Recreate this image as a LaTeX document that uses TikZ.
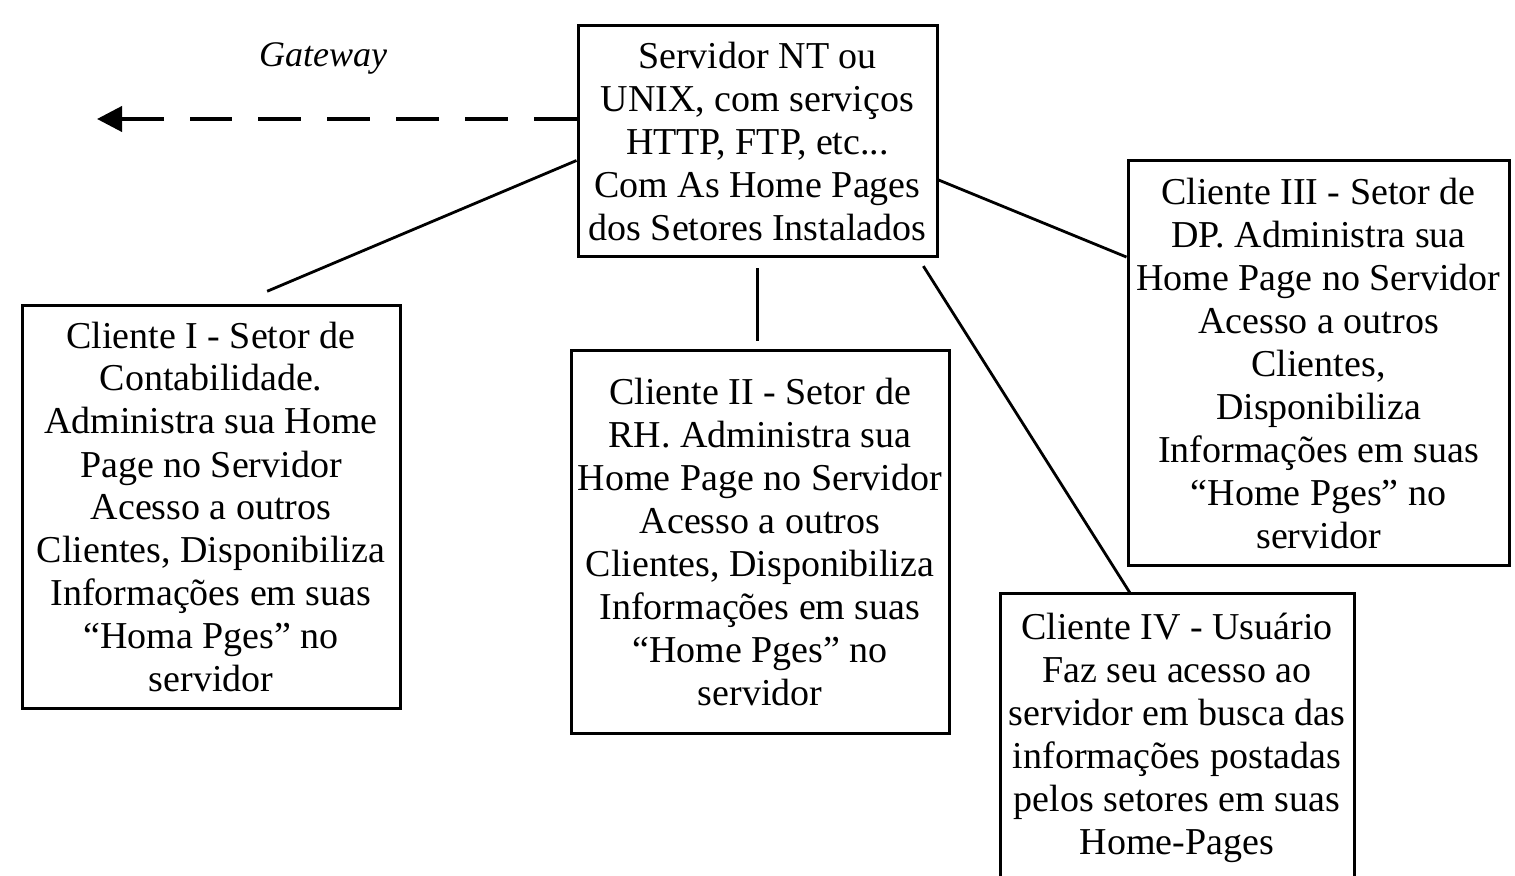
\documentclass[tikz,border=0pt]{standalone}
\usepackage{fontspec}
\setmainfont{Liberation Serif}
\usetikzlibrary{arrows.meta}

\begin{document}
\begin{tikzpicture}[x=0.5pt, y=-0.5pt,
    box/.style={draw, line width=1.5pt, align=center, inner sep=0pt,
      font=\fontsize{19}{21.5}\selectfont},
    link/.style={line width=1.4pt},
    gwline/.style={line width=2pt, dash pattern=on 21.5pt off 13pt},
    gwhead/.style={line width=2pt, -{Triangle[length=12.5pt, width=12.5pt]}}]
  \clip (0,0) rectangle (1515,876);
  % servidor
  \node[box, minimum width=179.5pt, minimum height=115.5pt] (srv) at (757.5,141.5)
    {Servidor NT ou\\UNIX, com serviços\\HTTP, FTP, etc...\\Com As Home Pages\\dos Setores Instalados};
  % clientes
  \node[box, minimum width=189pt, minimum height=201pt] (c1) at (211,507)
    {Cliente I - Setor de\\Contabilidade.\\Administra sua Home\\Page no Servidor\\Acesso a outros\\Clientes, Disponibiliza\\Informações em suas\\“Homa Pges” no\\servidor};
  \node[box, minimum width=189pt, minimum height=191pt] (c2) at (760,542)
    {Cliente II - Setor de\\RH. Administra sua\\Home Page no Servidor\\Acesso a outros\\Clientes, Disponibiliza\\Informações em suas\\“Home Pges” no\\servidor};
  \node[box, minimum width=190.5pt, minimum height=202.5pt] (c3) at (1318.5,363.5)
    {Cliente III - Setor de\\DP. Administra sua\\Home Page no Servidor\\Acesso a outros\\Clientes,\\Disponibiliza\\Informações em suas\\“Home Pges” no\\servidor};
  \node[box, minimum width=177pt, minimum height=144pt] (c4) at (1177,738)
    {Cliente IV - Usuário\\Faz seu acesso ao\\servidor em busca das\\informações postadas\\pelos setores em suas\\Home-Pages};
  % gateway
  \coordinate (gwdash) at (190,119);
  \coordinate (gwtail) at (164,119);
  \coordinate (gwend) at (97,119);
  \node[font=\fontsize{18}{20}\selectfont\itshape] (gwlabel) at (323,58) {Gateway};
  \draw[gwline] (srv.west |- gwend) -- (gwdash);
  \draw[gwhead] (gwtail) -- (gwend);
  % ligacoes
  \draw[link, shorten >=17pt] (srv.186.8) -- (c1.83.6);
  \draw[link, shorten <=5pt, shorten >=4pt] (srv.south) -- (srv.south |- c2.north);
  \draw[link] (srv.-12.7) -- (c3.151);
  \draw[link, shorten <=4.5pt] (srv.-36.8) -- (c4.108.1);
\end{tikzpicture}
\end{document}
